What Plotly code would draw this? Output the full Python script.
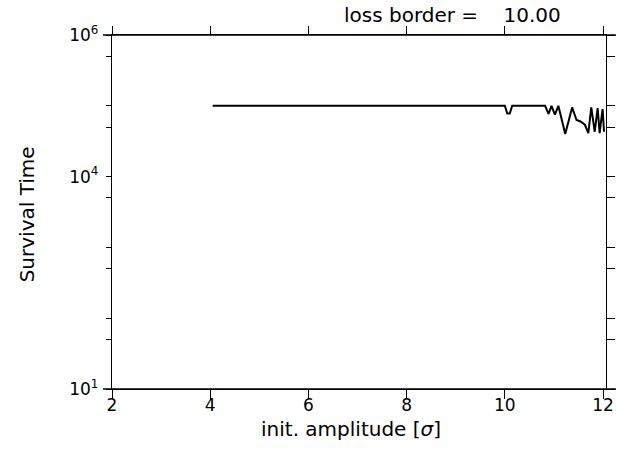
import plotly.graph_objects as go

# Survival time vs. initial amplitude (tracking run, loss border = 10 sigma)
amplitude = [4.05, 10.00, 10.05, 10.10, 10.15, 10.82, 10.89, 10.95, 11.02, 11.09,
             11.23, 11.37, 11.46, 11.54, 11.63, 11.70, 11.76, 11.83, 11.89, 11.93,
             11.99, 12.02]
survival = [1e5, 1e5, 7.8e4, 7.8e4, 1e5, 1e5, 7.7e4, 1e5, 7.5e4, 1e5,
            4.0e4, 9.5e4, 6.3e4, 6.0e4, 5.4e4, 4.1e4, 9.5e4, 4.3e4, 9.3e4, 4.1e4,
            9.0e4, 4.3e4]

x_ticks = [2, 4, 6, 8, 10, 12]
x_labels = ["2", "4", "6", "8", "10", "12"]
y_ticks = [10, 50, 100, 500, 1000, 5000, 1e4, 5e4, 1e5, 5e5, 1e6]
y_labels = ["10<sup>1</sup>", " ", " ", " ", " ", " ", "10<sup>4</sup>", " ", " ", " ",
            "10<sup>6</sup>"]

X_RANGE = [2, 12.06]
Y_RANGE = [1, 6]
FONT = "DejaVu Sans"
PLOT_W = 496
PLOT_H = 354
BLACK = "black"
LW = 1.3

fig = go.Figure()
fig.add_trace(go.Scatter(x=amplitude, y=survival, mode="lines",
                         line=dict(color=BLACK, width=2), hoverinfo="skip",
                         showlegend=False))
# transparent companion so the top/right tick axes are laid out
fig.add_trace(go.Scatter(x=amplitude, y=survival, mode="lines", xaxis="x2", yaxis="y2",
                         line=dict(color="rgba(0,0,0,0)", width=0), hoverinfo="skip",
                         showlegend=False))

common = dict(showgrid=False, zeroline=False, linecolor=BLACK, linewidth=LW,
              tickcolor=BLACK, tickwidth=LW, ticks="outside", showline=True)

fig.update_layout(
    width=626, height=450,
    margin=dict(l=112, r=18, t=35, b=61),
    paper_bgcolor="white", plot_bgcolor="white",
    font=dict(family=FONT, size=17, color=BLACK),
    xaxis=dict(range=X_RANGE, tickvals=x_ticks, ticktext=x_labels, ticklen=9,
               ticklabelstandoff=-9, tickfont=dict(size=17), **common),
    xaxis2=dict(range=X_RANGE, tickvals=x_ticks, overlaying="x", side="top",
                anchor="y2", ticklen=8, showticklabels=False, **common),
    yaxis=dict(type="log", range=Y_RANGE, tickvals=y_ticks, ticktext=y_labels,
               ticklen=5, ticklabelstandoff=4, tickfont=dict(size=17), **common),
    yaxis2=dict(type="log", range=Y_RANGE, tickvals=y_ticks, overlaying="y",
                side="right", anchor="x2", ticklen=8, showticklabels=False, **common),
    shapes=[
        dict(type="line", xref="paper", yref="paper", x0=-9 / PLOT_W, x1=1 + 10 / PLOT_W,
             y0=0, y1=0, line=dict(color=BLACK, width=LW)),
        dict(type="line", xref="paper", yref="paper", x0=-9 / PLOT_W, x1=1 + 10 / PLOT_W,
             y0=1, y1=1, line=dict(color=BLACK, width=LW)),
    ],
    annotations=[
        dict(text="init. amplitude [<i>σ</i>]", xref="paper", yref="paper",
             x=(352 - 112) / PLOT_W, y=(389 - 429) / PLOT_H, xanchor="center",
             yanchor="middle", showarrow=False, font=dict(size=20)),
        dict(text="Survival Time", xref="paper", yref="paper",
             x=(27 - 112) / PLOT_W, y=(389 - 214) / PLOT_H, xanchor="center",
             yanchor="middle", textangle=-90, showarrow=False, font=dict(size=20)),
        dict(text="loss border =\u00a0\u00a0\u00a0\u00a010.00", xref="paper", yref="paper",
             x=(454 - 112) / PLOT_W, y=1 + (35 - 15.5) / PLOT_H, xanchor="center",
             yanchor="middle", showarrow=False, font=dict(size=20)),
    ],
)

fig.write_html("out.html")
